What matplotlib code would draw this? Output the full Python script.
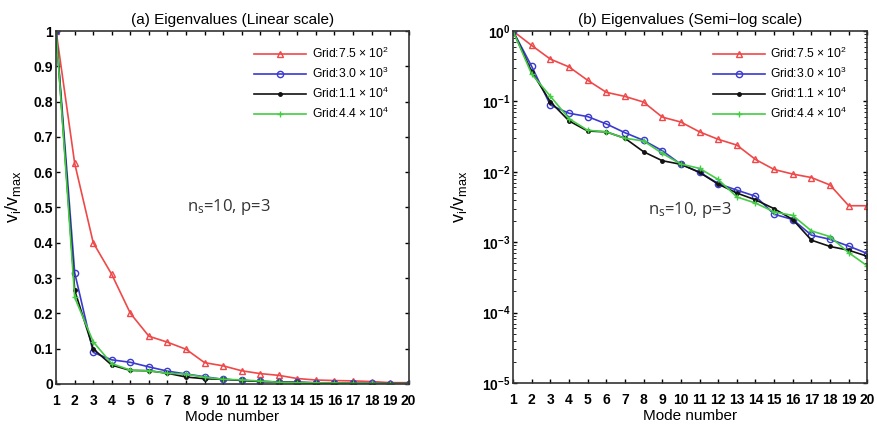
import numpy as np
import matplotlib.pyplot as plt
from matplotlib.ticker import LogLocator, NullFormatter, FuncFormatter

plt.rcParams['font.family'] = ['Liberation Sans', 'DejaVu Sans']
plt.rcParams['mathtext.fontset'] = 'custom'
plt.rcParams['mathtext.rm'] = 'Liberation Sans'
plt.rcParams['mathtext.it'] = 'Liberation Sans:italic'
plt.rcParams['mathtext.bf'] = 'Liberation Sans:bold'
plt.rcParams['mathtext.default'] = 'regular'

modes = np.arange(1, 21)

# normalised eigenvalues nu_i / nu_max
grid_750 = [1.0, 0.625, 0.40, 0.31, 0.20, 0.135, 0.118, 0.098, 0.060, 0.051,
            0.037, 0.029, 0.024, 0.015, 0.0108, 0.0093, 0.0083, 0.0065, 0.0033, 0.0033]
grid_3000 = [1.0, 0.315, 0.089, 0.068, 0.061, 0.048, 0.036, 0.028, 0.020, 0.0128,
             0.0099, 0.0068, 0.0055, 0.0045, 0.0025, 0.0021, 0.00126, 0.0011, 0.00088, 0.00069]
grid_11000 = [1.0, 0.265, 0.099, 0.053, 0.038, 0.037, 0.030, 0.0193, 0.0144, 0.0128,
              0.0098, 0.0067, 0.0050, 0.0040, 0.0030, 0.0021, 0.00107, 0.00087, 0.00077, 0.00063]
grid_44000 = [1.0, 0.245, 0.119, 0.057, 0.039, 0.037, 0.030, 0.0275, 0.0183, 0.0129,
              0.0112, 0.0078, 0.0044, 0.0036, 0.0027, 0.0024, 0.00145, 0.0012, 0.00071, 0.00046]

series = [
    (grid_750, 'Grid:7.5 $\\times$ 10$^2$', '#f04848', dict(marker='^', markersize=4, mfc='none')),
    (grid_3000, 'Grid:3.0 $\\times$ 10$^3$', '#3a3ad0', dict(marker='o', markersize=4.5, mfc='none')),
    (grid_11000, 'Grid:1.1 $\\times$ 10$^4$', '#111111', dict(marker='.', markersize=5)),
    (grid_44000, 'Grid:4.4 $\\times$ 10$^4$', '#44cc44', dict(marker='+', markersize=4)),
]

fig = plt.figure(figsize=(8.77, 4.26), dpi=100)
ax1 = fig.add_axes([0.064, 0.099, 0.402, 0.828])
ax2 = fig.add_axes([0.585, 0.101, 0.404, 0.826])

for ax in (ax1, ax2):
    for vals, lab, col, mk in series:
        ax.plot(modes, vals, color=col, lw=1.2, label=lab, **mk)
    ax.set_xlim(1, 20)
    ax.set_xticks(modes)
    ax.tick_params(direction='in', top=True, right=True, labelsize=10, length=3, width=1)
    ax.tick_params(axis='x', pad=7)
    ax.tick_params(axis='y', pad=2)
    ax.tick_params(which='minor', direction='in', top=True, right=True, length=2)
    for lbl in ax.get_xticklabels() + ax.get_yticklabels():
        lbl.set_fontweight('bold')
    for s in ax.spines.values():
        s.set_linewidth(1.2)
        s.set_color('#333333')
    ax.set_xlabel('Mode number', fontsize=11, labelpad=2)
    ax.legend(loc='upper right', frameon=False, fontsize=8.7, handlelength=4.3,
              handletextpad=0.45, labelspacing=0.4, borderaxespad=0.8,
              bbox_to_anchor=(0.985, 1.0))

ax1.set_ylim(0, 1)
ax1.set_yticks(np.arange(0, 1.01, 0.1))
ax1.set_yticklabels(['0', '0.1', '0.2', '0.3', '0.4', '0.5', '0.6', '0.7', '0.8', '0.9', '1'],
                    fontweight='bold')
ax1.set_ylabel('v$_i$/v$_{max}$', fontsize=13)
ax1.yaxis.set_label_coords(-0.093, 0.53)
ax1.set_title('(a) Eigenvalues (Linear scale)', fontsize=11, pad=5)
ax1.text(0.49, 0.49, 'n$_s$=10, p=3', transform=ax1.transAxes, ha='center',
         fontsize=12, color='#333333', family=['Open Sans', 'DejaVu Sans'])

ax2.set_yscale('log')
ax2.set_ylim(1e-5, 1)
ax2.yaxis.set_major_locator(LogLocator(base=10, numticks=10))
ax2.yaxis.set_major_formatter(FuncFormatter(
    lambda v, p: '$\\mathbf{10^{%d}}$' % int(round(np.log10(v)))))
ax2.yaxis.set_minor_locator(LogLocator(base=10, subs=np.arange(2, 10), numticks=10))
ax2.yaxis.set_minor_formatter(NullFormatter())
ax2.set_ylabel('v$_i$/v$_{max}$', fontsize=13)
ax2.yaxis.set_label_coords(-0.125, 0.53)
ax2.set_title('(b) Eigenvalues (Semi\u2212log scale)', fontsize=11, pad=5)
ax2.text(0.50, 0.48, 'n$_s$=10, p=3', transform=ax2.transAxes, ha='center',
         fontsize=12, color='#333333', family=['Open Sans', 'DejaVu Sans'])

fig.savefig('out.png', dpi=100)
